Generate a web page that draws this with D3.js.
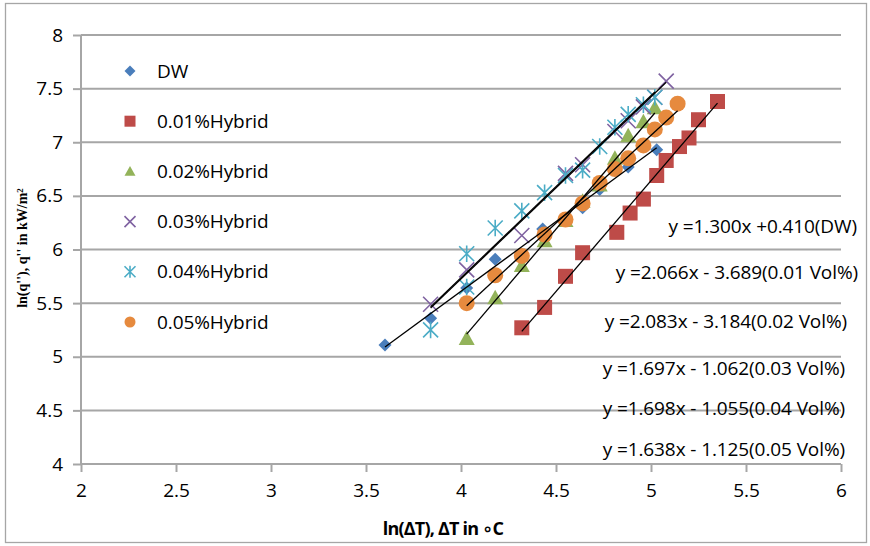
<!DOCTYPE html>
<html>
<head>
<meta charset="utf-8">
<script src="https://cdn.jsdelivr.net/npm/d3@7"></script>
<style>
  html, body { margin: 0; padding: 0; background: #fff; }
  svg text { font-family: "Open Sans", "DejaVu Sans", sans-serif; fill: #000; }
</style>
</head>
<body>
<svg id="chart" width="870" height="546"></svg>
<script>
// Boiling curves: ln(q'') against ln(ΔT) for water and hybrid nanofluids
const seriesNames = ["DW", "0.01%Hybrid", "0.02%Hybrid", "0.03%Hybrid", "0.04%Hybrid", "0.05%Hybrid"];
const seriesColors = ["#4A7EBB", "#BE4B48", "#93B35A", "#7F62A1", "#4BACC6", "#E68A3E"];
const seriesShapes = ["diamond", "square", "triangle", "cross", "asterisk", "circle"];

const dwX = [3.60, 3.84, 4.03, 4.18, 4.43, 4.64, 4.73, 4.88, 5.03];
const dwY = [5.11, 5.36, 5.64, 5.91, 6.19, 6.39, 6.56, 6.77, 6.93];

const h01X = [4.32, 4.44, 4.55, 4.64, 4.82, 4.89, 4.96, 5.03, 5.08, 5.15, 5.20, 5.25, 5.35];
const h01Y = [5.27, 5.46, 5.75, 5.97, 6.16, 6.34, 6.47, 6.69, 6.83, 6.96, 7.04, 7.21, 7.38];

const h02X = [4.03, 4.18, 4.32, 4.44, 4.55, 4.64, 4.73, 4.81, 4.88, 4.96, 5.02];
const h02Y = [5.17, 5.55, 5.85, 6.08, 6.27, 6.45, 6.60, 6.85, 7.06, 7.19, 7.32];

const h03X = [3.84, 4.03, 4.32, 4.55, 4.64, 4.81, 4.88, 4.96, 5.02, 5.08];
const h03Y = [5.49, 5.81, 6.13, 6.71, 6.79, 7.10, 7.20, 7.33, 7.42, 7.57];

const h04X = [3.84, 4.03, 4.03, 4.18, 4.32, 4.44, 4.55, 4.64, 4.73, 4.81, 4.88, 4.96, 5.02];
const h04Y = [5.25, 5.65, 5.96, 6.20, 6.36, 6.53, 6.69, 6.74, 6.96, 7.14, 7.26, 7.35, 7.42];

const h05X = [4.03, 4.18, 4.32, 4.44, 4.55, 4.64, 4.73, 4.81, 4.88, 4.96, 5.02, 5.08, 5.14];
const h05Y = [5.50, 5.76, 5.94, 6.14, 6.28, 6.43, 6.62, 6.75, 6.85, 6.97, 7.12, 7.23, 7.36];

// Linear fits y = slope * x + intercept
const fitSlopes = [1.300, 2.066, 2.083, 1.697, 1.698, 1.638];
const fitIntercepts = [0.410, -3.689, -3.184, -1.062, -1.055, -1.125];
const fitLabels = [
  "y =1.300x +0.410(DW)",
  "y =2.066x - 3.689(0.01 Vol%)",
  "y =2.083x - 3.184(0.02 Vol%)",
  "y =1.697x - 1.062(0.03 Vol%)",
  "y =1.698x - 1.055(0.04 Vol%)",
  "y =1.638x - 1.125(0.05 Vol%)"
];

const xTicks = [2, 2.5, 3, 3.5, 4, 4.5, 5, 5.5, 6];
const yTicks = [4, 4.5, 5, 5.5, 6, 6.5, 7, 7.5, 8];

const seriesX = [dwX, h01X, h02X, h03X, h04X, h05X];
const seriesY = [dwY, h01Y, h02Y, h03Y, h04Y, h05Y];

const svg = d3.select("#chart");
const plot = { left: 81, right: 841, top: 35, bottom: 464 };

const x = d3.scaleLinear().domain([2, 6]).range([plot.left, plot.right]);
const y = d3.scaleLinear().domain([4, 8]).range([plot.bottom, plot.top]);

const gridColor = "#a6a6a6";
const fontSize = "19px";

// outer frame
svg.append("rect")
  .attr("x", 5.5).attr("y", 3.5).attr("width", 861).attr("height", 539)
  .attr("fill", "#fff").attr("stroke", "#a6a6a6").attr("stroke-width", 1.3);

// horizontal gridlines
svg.append("g").selectAll("line").data(yTicks).join("line")
  .attr("x1", plot.left).attr("x2", plot.right)
  .attr("y1", d => y(d)).attr("y2", d => y(d))
  .attr("stroke", gridColor).attr("stroke-width", 2);

// y axis
const yAxis = d3.axisLeft(y).tickValues(yTicks).tickSize(8).tickPadding(10)
  .tickFormat(d3.format("~g"));
const gy = svg.append("g").attr("transform", `translate(${plot.left},0)`).call(yAxis);
gy.select(".domain").attr("stroke", gridColor).attr("stroke-width", 2).attr("d", `M0,${plot.top}V${plot.bottom}`);
gy.selectAll(".tick line").attr("stroke", gridColor).attr("stroke-width", 2);
gy.selectAll(".tick text").style("font-size", fontSize).style("font-family", "'Open Sans', sans-serif").attr("fill", "#000");

// x axis
const xAxis = d3.axisBottom(x).tickValues(xTicks).tickSize(8).tickPadding(12)
  .tickFormat(d3.format("~g"));
const gx = svg.append("g").attr("transform", `translate(0,${plot.bottom})`).call(xAxis);
gx.select(".domain").attr("stroke", gridColor).attr("stroke-width", 2).attr("d", `M${plot.left},0H${plot.right}`);
gx.selectAll(".tick line").attr("stroke", gridColor).attr("stroke-width", 2);
gx.selectAll(".tick text").style("font-size", fontSize).style("font-family", "'Open Sans', sans-serif").attr("fill", "#000");

// marker drawing
function drawMarker(g, shape, color, s) {
  const h = s / 2;
  if (shape === "diamond") {
    g.append("path").attr("d", `M0,${-h}L${h},0L0,${h}L${-h},0Z`).attr("fill", color);
  } else if (shape === "square") {
    g.append("rect").attr("x", -h).attr("y", -h).attr("width", s).attr("height", s).attr("fill", color);
  } else if (shape === "triangle") {
    g.append("path").attr("d", `M0,${-h}L${h},${h * 0.8}L${-h},${h * 0.8}Z`).attr("fill", color);
  } else if (shape === "circle") {
    g.append("circle").attr("r", h).attr("fill", color);
  } else if (shape === "cross") {
    g.append("path").attr("d", `M${-h},${-h}L${h},${h}M${-h},${h}L${h},${-h}`)
      .attr("stroke", color).attr("stroke-width", 1.6).attr("fill", "none");
  } else if (shape === "asterisk") {
    g.append("path").attr("d", `M${-h},${-h}L${h},${h}M${-h},${h}L${h},${-h}M0,${-h * 1.1}V${h * 1.1}`)
      .attr("stroke", color).attr("stroke-width", 1.6).attr("fill", "none");
  }
}

const markerSizes = [13, 15, 16, 15, 15, 16];

// data points
seriesNames.forEach((name, i) => {
  const g = svg.append("g").attr("class", "series");
  seriesX[i].forEach((xv, j) => {
    const m = g.append("g").attr("transform", `translate(${x(xv)},${y(seriesY[i][j])})`);
    drawMarker(m, seriesShapes[i], seriesColors[i], markerSizes[i]);
  });
});

// trendlines
seriesNames.forEach((name, i) => {
  const [x0, x1] = d3.extent(seriesX[i]);
  svg.append("line")
    .attr("x1", x(x0)).attr("y1", y(fitSlopes[i] * x0 + fitIntercepts[i]))
    .attr("x2", x(x1)).attr("y2", y(fitSlopes[i] * x1 + fitIntercepts[i]))
    .attr("stroke", "#000").attr("stroke-width", 1.3);
});

// fit equations
const eqRight = [857, 858, 847, 845, 845, 845];
const eqY = [226, 272, 321, 368, 408, 449];
svg.append("g").selectAll("text").data(fitLabels).join("text")
  .attr("x", (d, i) => eqRight[i]).attr("y", (d, i) => eqY[i])
  .attr("dy", "0.35em").attr("text-anchor", "end")
  .style("font-size", fontSize).style("letter-spacing", "-0.1px")
  .text(d => d);

// legend
const legend = svg.append("g");
seriesNames.forEach((name, i) => {
  const ly = 71 + i * 50.2;
  const m = legend.append("g").attr("transform", `translate(130,${ly})`);
  drawMarker(m, seriesShapes[i], seriesColors[i], 11);
  legend.append("text").attr("x", 157).attr("y", ly).attr("dy", "0.35em")
    .style("font-size", fontSize).style("letter-spacing", "-0.1px").text(name);
});

// axis titles
svg.append("text")
  .attr("x", 443).attr("y", 529).attr("dy", "0.35em").attr("text-anchor", "middle")
  .style("font-size", "18px").style("font-weight", "bold").style("letter-spacing", "-0.8px")
  .text("ln(ΔT), ΔT in \u2218C");

const yt = svg.append("text")
  .attr("transform", `translate(22,248) rotate(-90)`)
  .attr("text-anchor", "middle").attr("dy", "0.35em")
  .style("font-family", "'Liberation Serif', 'Times New Roman', serif")
  .style("font-size", "14px").style("font-weight", "bold");
yt.append("tspan").text("ln(q''), q'' in kW/m");
yt.append("tspan").attr("dy", "-0.45em").style("font-size", "9px").text("2");
</script>
</body>
</html>
